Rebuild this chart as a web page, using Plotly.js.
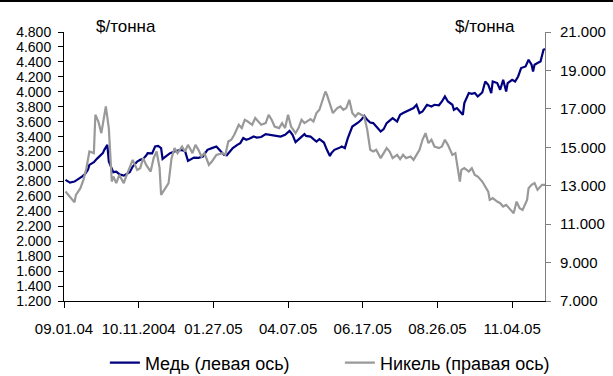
<!DOCTYPE html>
<html>
<head>
<meta charset="utf-8">
<script src="https://cdn.plot.ly/plotly-3.0.1.min.js"></script>
<style>
  html, body { margin: 0; padding: 0; background: #fff; }
  #wrap { position: relative; width: 613px; height: 376px; }
  #chart { width: 613px; height: 376px; }
  #topRule { position: absolute; left: 0; top: 0; width: 613px; height: 2px; background: #000; }
</style>
</head>
<body>
<div id="wrap">
  <div id="chart"></div>
  <div id="topRule"></div>
</div>
<script>
// Trading-day index (0 = 1 Sep 2004) and LME prices, $/t
const copperDay = [1,4,7,10,12,14,16,17,20,22,24,26,27,29,30,33,35,37,40,42,44,46,49,51,53,55,56,59,61,63,65,66,69,71,74,78,81,83,87,90,93,96,99,102,104,107,109,111,113,116,118,120,122,124,127,129,132,135,138,141,145,148,151,153,155,158,161,162,165,167,169,171,174,176,178,179,181,184,186,188,190,193,195,197,199,201,203,205,207,209,212,214,216,218,220,223,225,227,229,232,234,236,238,240,243,246,248,251,253,255,257,260,261,263,265,267,268,271,273,275,277,280,282,284,286,287,290,292,294,296,297,300,302,304,306,309,311,313,314,315,317,319,321,322];
const copperPrice = [2821,2785,2798,2834,2865,2897,2955,3022,3058,3102,3146,3179,3223,3290,3066,2924,2930,2897,2878,2897,2924,2999,3066,3089,3102,3146,3179,3175,3267,3276,3246,3102,3146,3179,3200,3223,3209,3075,3120,3115,3133,3223,3246,3267,3223,3156,3150,3200,3246,3290,3313,3380,3357,3370,3401,3387,3395,3433,3424,3415,3401,3424,3477,3424,3326,3380,3433,3410,3401,3366,3334,3366,3321,3223,3142,3179,3223,3246,3267,3246,3380,3535,3558,3589,3625,3678,3625,3589,3581,3535,3468,3500,3581,3615,3648,3602,3692,3715,3736,3759,3782,3826,3715,3736,3826,3803,3826,3820,3870,3937,3870,3826,3759,3782,3736,3692,3849,3983,3973,3983,3937,3991,4138,4094,3983,4138,4117,4027,4161,4004,4117,4161,4138,4205,4318,4339,4429,4362,4272,4362,4385,4406,4563,4572];

const nickelDay = [1,3,5,7,8,11,13,15,17,20,21,23,25,26,28,30,31,32,33,35,37,40,42,44,46,49,51,53,55,58,60,62,64,65,68,70,72,74,76,79,81,83,86,88,90,92,94,97,99,102,106,108,110,112,114,117,119,121,123,126,128,130,132,135,137,139,141,144,146,148,150,152,155,157,159,161,165,167,169,171,173,175,176,178,180,183,185,187,189,191,193,195,197,199,201,203,205,207,209,212,214,216,218,220,223,225,227,229,232,234,236,238,240,242,244,246,248,251,253,255,257,260,262,263,265,266,268,271,273,275,277,280,282,284,285,287,290,292,294,296,299,301,303,305,307,310,311,313,315,317,320,322];
const nickelPrice = [12695,12523,12351,12143,12523,12872,13305,13914,14779,14696,16691,16342,15738,16170,17124,15998,14779,13216,13477,13133,13565,13133,13565,13914,14347,13826,13914,14435,14086,13737,14435,14779,13914,12523,12872,13133,14435,14956,14696,15040,14779,15128,14696,15128,14868,14519,14696,14086,14258,14607,14696,14607,15300,15389,15649,16170,16000,16431,16342,16170,16519,16342,16170,16259,16691,16431,16082,16000,16259,16000,16691,16082,15738,16000,16431,16259,16467,16342,16780,16952,17473,17905,17733,17212,16780,17040,17124,16952,17040,17473,16780,16603,16780,16691,16603,15910,14868,14779,14868,14435,14696,14956,14779,14435,14607,14383,14607,14435,14519,14347,14607,14868,15389,15738,15217,15389,15040,14956,15040,15389,15128,14607,14696,14175,13216,13826,13914,13737,13914,13565,13477,13216,12956,12695,12263,12351,12174,12091,11914,12002,11742,11570,12174,11830,11742,12263,12872,13044,13133,12784,13044,13044];

// Category ticks every 50 trading days
const tickDays = [0,50,100,150,200,250,300];
const tickLabels = ['09.01.04','10.11.2004','01.27.05','04.07.05','06.17.05','08.26.05','11.04.05'];

const seriesNames = ['Медь (левая ось)', 'Никель (правая ось)'];
const unitLabel = '$/тонна';

const FONT = 'Liberation Sans, Arial, sans-serif';
const xRange = [0, 322];
const leftRange = [1200, 4800];
const rightRange = [7000, 21000];

const traces = [
  {
    x: copperDay, y: copperPrice, name: seriesNames[0],
    type: 'scatter', mode: 'lines', yaxis: 'y', xaxis: 'x',
    line: { color: '#000080', width: 2.2 }
  },
  {
    x: nickelDay, y: nickelPrice, name: seriesNames[1],
    type: 'scatter', mode: 'lines', yaxis: 'y2', xaxis: 'x',
    line: { color: '#999999', width: 2.2 }
  }
];

const tickFont = { family: FONT, size: 15, color: '#000' };

const layout = {
  width: 613, height: 376,
  margin: { l: 64, r: 68, t: 32, b: 75, autoexpand: false },
  paper_bgcolor: '#fff', plot_bgcolor: '#fff',
  separators: ',.',
  showlegend: true,
  legend: {
    orientation: 'h', x: 0.085, xanchor: 'left', y: -0.23, yanchor: 'middle',
    font: { family: FONT, size: 18, color: '#000' },
    itemwidth: 30, tracegroupgap: 0,
    entrywidthmode: 'pixels', entrywidth: 190
  },
  xaxis: {
    range: xRange, tickmode: 'array', tickvals: tickDays, ticktext: tickLabels,
    showgrid: false, zeroline: false, showline: true, linecolor: '#000', linewidth: 1,
    ticks: 'outside', ticklen: 6, tickcolor: '#000', tickfont: tickFont,
    ticklabelstandoff: 8
  },
  xaxis2: {
    range: xRange, overlaying: 'x', anchor: 'y', tickmode: 'array', tickvals: tickDays,
    showgrid: false, zeroline: false, showline: false, showticklabels: false,
    ticks: 'inside', ticklen: 6, tickcolor: '#000'
  },
  yaxis: {
    range: leftRange, dtick: 200, tickformat: ',d',
    showgrid: false, zeroline: false, showline: true, linecolor: '#000', linewidth: 1,
    ticks: 'outside', ticklen: 5, tickcolor: '#000',
    tickfont: { family: FONT, size: 14, color: '#000' },
    ticklabelstandoff: 4
  },
  yaxis3: {
    range: leftRange, dtick: 200, overlaying: 'y', side: 'left',
    showgrid: false, zeroline: false, showline: false, showticklabels: false,
    ticks: 'inside', ticklen: 5, tickcolor: '#000'
  },
  yaxis2: {
    range: rightRange, tick0: 1000, dtick: 2000, tickformat: ',d', overlaying: 'y', side: 'right',
    showgrid: false, zeroline: false, showline: true, linecolor: '#808080', linewidth: 1,
    ticks: 'outside', ticklen: 5, tickcolor: '#808080', tickfont: tickFont,
    ticklabelstandoff: 6
  },
  annotations: [
    { text: unitLabel, xref: 'paper', yref: 'paper', x: (126 - 64) / 481, y: (301 - 27) / 268.7,
      xanchor: 'center', yanchor: 'middle', showarrow: false,
      font: { family: FONT, size: 17, color: '#000' } },
    { text: unitLabel, xref: 'paper', yref: 'paper', x: (485 - 64) / 481, y: (301 - 27) / 268.7,
      xanchor: 'center', yanchor: 'middle', showarrow: false,
      font: { family: FONT, size: 17, color: '#000' } }
  ]
};

Plotly.newPlot('chart', traces, layout, { staticPlot: true, displayModeBar: false });
</script>
</body>
</html>
